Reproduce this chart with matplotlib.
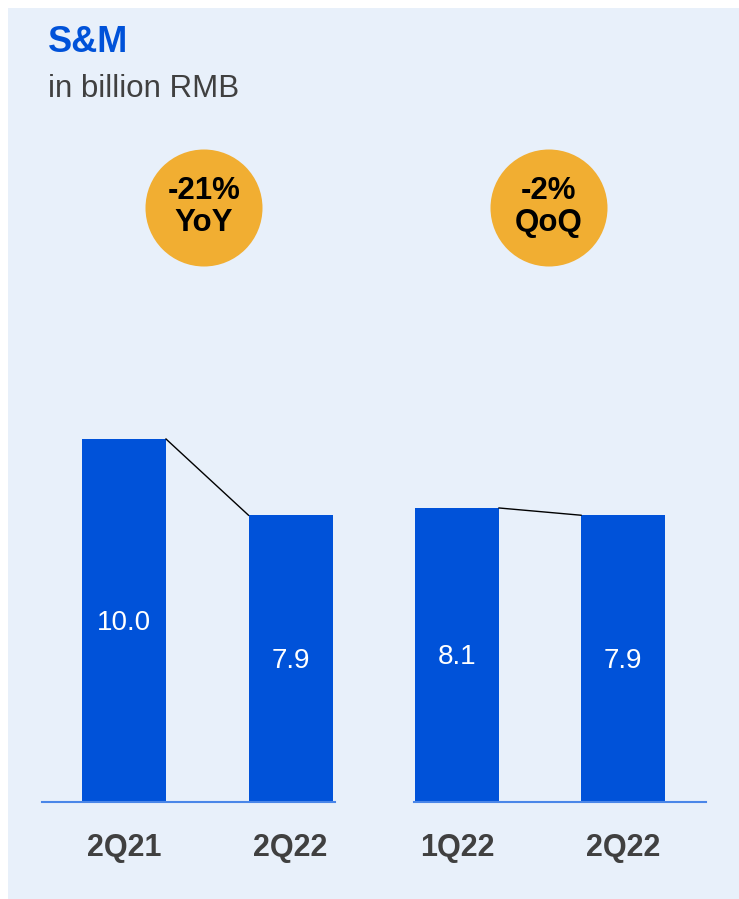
import matplotlib.pyplot as plt
from matplotlib.patches import Rectangle, Circle

plt.rcParams['font.family'] = ['Liberation Sans', 'DejaVu Sans']

# Sales & marketing expense, billion RMB
yoy_labels = ['2Q21', '2Q22']
yoy_values = [10.0, 7.9]
qoq_labels = ['1Q22', '2Q22']
qoq_values = [8.1, 7.9]
badges = ['-21%\nYoY', '-2%\nQoQ']

W, H = 739, 899
BLUE = '#0052D9'
PANEL = '#E8F0FA'
ORANGE = '#F1AE32'
GREY = '#404040'
PX_PER_UNIT = 36.3
YMAX = 12

fig = plt.figure(figsize=(W / 100, H / 100), dpi=100)
fig.patch.set_facecolor('white')

# background layer in pixel coordinates
bg = fig.add_axes([0, 0, 1, 1])
bg.set_xlim(0, W)
bg.set_ylim(H, 0)
bg.axis('off')
bg.add_patch(Rectangle((8, 8), W - 8, H - 8, facecolor=PANEL, edgecolor='none'))
bg.text(48, 42, 'S&M', color=BLUE, fontsize=26, fontweight='bold', va='center')
bg.text(48, 89, 'in billion RMB', color=GREY, fontsize=22.5, va='center')

for cx, txt in zip([204, 549], badges):
    bg.add_patch(Circle((cx, 208), 58.5, facecolor=ORANGE, edgecolor='none'))
    bg.text(cx, 207, txt, ha='center', va='center', fontsize=22.5, fontweight='bold',
            color='black', linespacing=1.12)


def draw_group(left_px, right_px, first_center, step, labels, values):
    base_px = 802
    top_px = base_px - PX_PER_UNIT * YMAX
    ax = fig.add_axes([left_px / W, (H - base_px) / H,
                       (right_px - left_px) / W, (base_px - top_px) / H])
    ax.patch.set_alpha(0)
    width_px = right_px - left_px
    x0 = -(first_center - left_px) / step
    ax.set_xlim(x0, x0 + width_px / step)
    ax.set_ylim(0, YMAX)
    bw = 84 / step
    xs = list(range(len(values)))
    ax.bar(xs, values, width=bw, color=BLUE, zorder=2)
    # connector between the bar tops
    ax.plot([xs[0] + bw / 2, xs[1] - bw / 2], values, color='black', lw=1, zorder=3)
    for x, v in zip(xs, values):
        ax.text(x, v / 2 - 0.06, f'{v:.1f}', color='white', fontsize=20,
                ha='center', va='center')
    for s in ['top', 'left', 'right']:
        ax.spines[s].set_visible(False)
    ax.spines['bottom'].set_color('#4A86E8')
    ax.spines['bottom'].set_linewidth(1.5)
    ax.set_yticks([])
    ax.set_xticks(xs)
    ax.set_xticklabels(labels, fontsize=22, fontweight='bold', color=GREY)
    ax.tick_params(axis='x', length=0, pad=22)
    return ax


draw_group(42, 335, 124, 166.5, yoy_labels, yoy_values)
draw_group(414, 706, 457, 166, qoq_labels, qoq_values)

fig.savefig('out.png', dpi=100, facecolor='white')
